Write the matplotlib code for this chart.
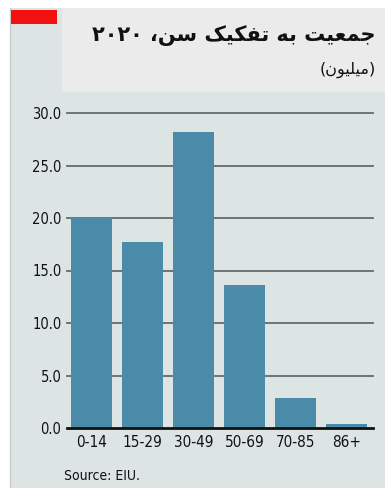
import matplotlib
matplotlib.use("Agg")
import matplotlib.pyplot as plt
from matplotlib.patches import Rectangle
from matplotlib import font_manager

# Data
age_groups = ["0-14", "15-29", "30-49", "50-69", "70-85", "86+"]
population_m = [20.1, 17.7, 28.2, 13.6, 2.9, 0.4]
y_ticks = [0, 5, 10, 15, 20, 25, 30]
y_tick_labels = ["0.0", "5.0", "10.0", "15.0", "20.0", "25.0", "30.0"]
title_text = "جمعیت به تفکیک سن، ۲۰۲۰"
subtitle_text = "(میلیون)"
source_text = "Source: EIU."

# --- minimal Persian shaping (presentation forms + visual order) ---
FORMS = {
    "ج": (0xFE9D, 0xFE9E, 0xFE9F, 0xFEA0),
    "م": (0xFEE1, 0xFEE2, 0xFEE3, 0xFEE4),
    "ع": (0xFEC9, 0xFECA, 0xFECB, 0xFECC),
    "ی": (0xFBFC, 0xFBFD, 0xFBFE, 0xFBFF),
    "ت": (0xFE95, 0xFE96, 0xFE97, 0xFE98),
    "ب": (0xFE8F, 0xFE90, 0xFE91, 0xFE92),
    "ه": (0xFEE9, 0xFEEA, 0xFEEB, 0xFEEC),
    "ف": (0xFED1, 0xFED2, 0xFED3, 0xFED4),
    "ک": (0xFB8E, 0xFB8F, 0xFB90, 0xFB91),
    "س": (0xFEB1, 0xFEB2, 0xFEB3, 0xFEB4),
    "ن": (0xFEE5, 0xFEE6, 0xFEE7, 0xFEE8),
    "ل": (0xFEDD, 0xFEDE, 0xFEDF, 0xFEE0),
    "و": (0xFEED, 0xFEEE, None, None),
}
RIGHT_ONLY = {"و"}


def shape_persian(text):
    chars = list(text)
    out = []
    for i, c in enumerate(chars):
        if c not in FORMS:
            out.append(c)
            continue
        prev_c = chars[i - 1] if i > 0 else None
        next_c = chars[i + 1] if i + 1 < len(chars) else None
        joins_prev = prev_c in FORMS and prev_c not in RIGHT_ONLY
        joins_next = (c not in RIGHT_ONLY) and next_c in FORMS
        iso, fin, ini, med = FORMS[c]
        if joins_prev and joins_next:
            cp = med
        elif joins_prev:
            cp = fin
        elif joins_next:
            cp = ini
        else:
            cp = iso
        out.append(chr(cp))
    # visual order: reverse, keep digit runs left-to-right, mirror brackets
    runs, cur, cur_digit = [], "", None
    for ch in out:
        is_digit = "\u06F0" <= ch <= "\u06F9" or ch.isdigit()
        if cur and is_digit != cur_digit:
            runs.append((cur, cur_digit))
            cur = ""
        cur += ch
        cur_digit = is_digit
    if cur:
        runs.append((cur, cur_digit))
    mirror = {"(": ")", ")": "("}
    vis = []
    for seg, dig in reversed(runs):
        if dig:
            vis.append(seg)
        else:
            vis.append("".join(mirror.get(ch, ch) for ch in reversed(seg)))
    return "".join(vis)


W, H = 385, 488
fig = plt.figure(figsize=(W / 100, H / 100), dpi=100)
fig.patch.set_facecolor("white")

bg = "#dde4e4"
# page panel
fig.patches.append(Rectangle((10 / W, 0), 1 - 10 / W, 1 - 8 / H, transform=fig.transFigure,
                             facecolor=bg, edgecolor="none", zorder=-3))
fig.add_artist(plt.Line2D([9.5 / W, 9.5 / W], [0, 1 - 8 / H], transform=fig.transFigure,
                          color="#c9cccc", lw=1.0, zorder=-2))
# title box
fig.patches.append(Rectangle((62 / W, 1 - 92 / H), 1 - 62 / W, 84 / H, transform=fig.transFigure,
                             facecolor="#ebebeb", edgecolor="none", zorder=-2))
# red tag
fig.patches.append(Rectangle((11 / W, 1 - 24 / H), 46 / W, 14 / H, transform=fig.transFigure,
                             facecolor="#f21111", edgecolor="none", zorder=-1))

fig.text(376 / W, 1 - 36 / H, shape_persian(title_text), ha="right", va="center",
         fontsize=15, fontweight="bold", family=["DejaVu Sans"], color="#111111")
fig.text(376 / W, 1 - 70 / H, shape_persian(subtitle_text), ha="right", va="center",
         fontsize=11.5, family=["DejaVu Sans"], color="#111111")

names = {f.name for f in font_manager.fontManager.ttflist}
if "Liberation Sans Narrow" in names:
    cond = dict(family=["Liberation Sans Narrow"])
else:
    cond = dict(family=["DejaVu Sans"], stretch="condensed")

ax = fig.add_axes([67 / W, 1 - 428 / H, (373 - 67) / W, (428 - 113) / H], zorder=5)
ax.set_facecolor("none")
x = list(range(len(age_groups)))
ax.bar(x, population_m, width=0.79, color="#4a8baa", zorder=3)
ax.set_xlim(-0.48, 5.52)
ax.set_ylim(0, 30)
for v in y_ticks[1:]:
    ax.axhline(v, color="#656b6b", lw=1.3, zorder=1, clip_on=False)
ax.axhline(0, color="#111111", lw=2.0, zorder=4, clip_on=False)
for s in ax.spines.values():
    s.set_visible(False)
ax.set_yticks(y_ticks)
ax.set_yticklabels(y_tick_labels, fontsize=10.5, color="#111111", **cond)
ax.set_xticks(x)
ax.set_xticklabels(age_groups, fontsize=11, color="#111111", **cond)
ax.tick_params(axis="y", length=0, pad=4)
ax.tick_params(axis="x", length=0, pad=5)

fig.text(64 / W, 1 - 476 / H, source_text, ha="left", va="center",
         fontsize=10, color="#111111", **cond)

fig.savefig("out.png", dpi=100, facecolor=fig.get_facecolor())
